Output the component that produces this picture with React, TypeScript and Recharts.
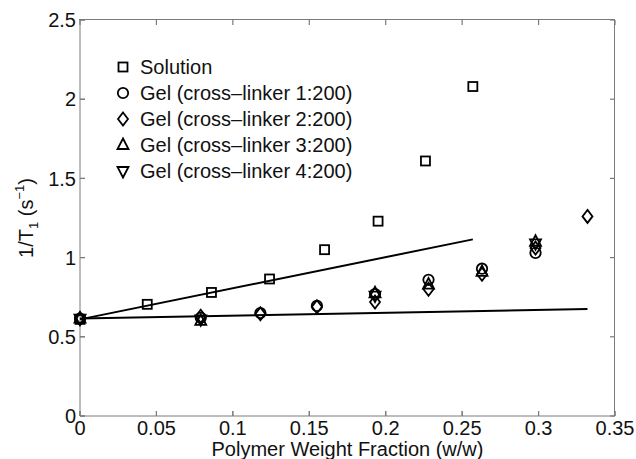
import {
  Legend,
  Scatter,
  ScatterChart,
  XAxis,
  YAxis,
} from "recharts";

const X_DOMAIN = [0, 0.35];
const Y_DOMAIN = [0, 2.5];
const X_TICKS = [0, 0.05, 0.1, 0.15, 0.2, 0.25, 0.3, 0.35];
const Y_TICKS = [0, 0.5, 1, 1.5, 2, 2.5];

const solution = [
  { x: 0, y: 0.61 },
  { x: 0.044, y: 0.705 },
  { x: 0.086, y: 0.78 },
  { x: 0.124, y: 0.865 },
  { x: 0.16, y: 1.05 },
  { x: 0.195, y: 1.23 },
  { x: 0.226, y: 1.61 },
  { x: 0.257, y: 2.08 },
];
const gel1 = [
  { x: 0, y: 0.615 },
  { x: 0.079, y: 0.62 },
  { x: 0.118, y: 0.65 },
  { x: 0.155, y: 0.695 },
  { x: 0.193, y: 0.77 },
  { x: 0.228, y: 0.86 },
  { x: 0.263, y: 0.93 },
  { x: 0.298, y: 1.03 },
];
const gel2 = [
  { x: 0, y: 0.615 },
  { x: 0.079, y: 0.63 },
  { x: 0.118, y: 0.645 },
  { x: 0.155, y: 0.69 },
  { x: 0.193, y: 0.72 },
  { x: 0.228, y: 0.8 },
  { x: 0.263, y: 0.895 },
  { x: 0.298, y: 1.06 },
  { x: 0.332, y: 1.26 },
];
const gel3 = [
  { x: 0, y: 0.615 },
  { x: 0.079, y: 0.6 },
  { x: 0.193, y: 0.775 },
  { x: 0.228, y: 0.83 },
  { x: 0.263, y: 0.91 },
  { x: 0.298, y: 1.1 },
];
const gel4 = [
  { x: 0, y: 0.615 },
  { x: 0.079, y: 0.61 },
  { x: 0.193, y: 0.76 },
  { x: 0.298, y: 1.09 },
];
const solutionFit = [
  { x: 0, y: 0.61 },
  { x: 0.257, y: 1.115 },
];
const gelFit = [
  { x: 0, y: 0.615 },
  { x: 0.332, y: 0.675 },
];

const LEGEND = [
  { name: "Solution", kind: "square" },
  { name: "Gel (cross\u2013linker 1:200)", kind: "circle" },
  { name: "Gel (cross\u2013linker 2:200)", kind: "diamond" },
  { name: "Gel (cross\u2013linker 3:200)", kind: "up" },
  { name: "Gel (cross\u2013linker 4:200)", kind: "down" },
];

// inward ticks, built from the axis domains and tick lists
const [X0, X1] = X_DOMAIN;
const [Y0, Y1] = Y_DOMAIN;
const ticksTop = X_TICKS.map((x) => ({ x, y: Y1 }));
const ticksBottom = X_TICKS.map((x) => ({ x, y: Y0 }));
const ticksLeft = Y_TICKS.map((y) => ({ x: X0, y }));
const ticksRight = Y_TICKS.map((y) => ({ x: X1, y }));

const W = 636;
const H = 459;
const MARGIN = { top: 20, right: 21, bottom: 13, left: 30 };
const Y_AXIS_W = 50;
const X_AXIS_H = 30;
const FONT = "'Liberation Sans', Arial, Helvetica, sans-serif";
const FRAME = "#7a7a7a";
const TICK = { fontSize: 20, fill: "#111", fontFamily: FONT };

function Mark({ cx, cy, kind }: { cx: number; cy: number; kind: string }) {
  const st = { fill: "none", stroke: "#000", strokeWidth: 1.8 };
  if (kind === "square") return <rect x={cx - 4.5} y={cy - 4.5} width={9} height={9} {...st} />;
  if (kind === "circle") return <circle cx={cx} cy={cy} r={5.2} {...st} />;
  if (kind === "diamond")
    return <polygon points={`${cx},${cy - 6.5} ${cx + 5},${cy} ${cx},${cy + 6.5} ${cx - 5},${cy}`} {...st} />;
  if (kind === "up")
    return <polygon points={`${cx},${cy - 6.5} ${cx + 5.5},${cy + 4} ${cx - 5.5},${cy + 4}`} {...st} />;
  return <polygon points={`${cx},${cy + 6.5} ${cx + 5.5},${cy - 4} ${cx - 5.5},${cy - 4}`} {...st} />;
}

const shapeOf = (kind: string) => (p: any) => <Mark cx={p.cx} cy={p.cy} kind={kind} />;

// short inward tick mark, direction given as a path fragment
const tickShape = (dir: string) => (p: any) => (
  <path d={`M${p.cx},${p.cy}${dir}`} stroke={FRAME} strokeWidth={1.2} fill="none" />
);
const noShape = () => <g />;

function LegendBox() {
  return (
    <div style={{ fontFamily: FONT, fontSize: 20, color: "#111" }}>
      {LEGEND.map((d) => (
        <div key={d.name} style={{ display: "flex", alignItems: "center", height: 26 }}>
          <svg width={18} height={18} style={{ marginRight: 8 }}>
            <Mark cx={9} cy={9} kind={d.kind} />
          </svg>
          <span>{d.name}</span>
        </div>
      ))}
    </div>
  );
}

function YLabel(props: any) {
  const vb = props.viewBox || { y: 20, height: 396 };
  const cy = vb.y + vb.height / 2;
  const x = 33;
  return (
    <text
      transform={`translate(${x},${cy}) rotate(-90)`}
      textAnchor="middle"
      style={{ fontFamily: FONT, fontSize: 20, fill: "#111" }}
    >
      1/T
      <tspan fontSize={13} dy={5}>1</tspan>
      <tspan dy={-5}> (s</tspan>
      <tspan fontSize={13} dy={-9}>{"\u22121"}</tspan>
      <tspan dy={9}>)</tspan>
    </text>
  );
}

export default function App() {
  const plotLeft = MARGIN.left + Y_AXIS_W;
  const plotW = W - plotLeft - MARGIN.right;
  const plotH = H - MARGIN.top - MARGIN.bottom - X_AXIS_H;
  return (
    <div style={{ position: "absolute", left: 0, top: 0, width: W, height: H, background: "#fff" }}>
      <ScatterChart width={W} height={H} margin={MARGIN}>
        <XAxis
          type="number"
          dataKey="x"
          domain={X_DOMAIN}
          ticks={X_TICKS}
          height={X_AXIS_H}
          tick={TICK}
          tickSize={-5}
          tickMargin={10}
          stroke={FRAME}
          label={{
            value: "Polymer Weight Fraction (w/w)",
            position: "insideBottom",
            offset: -10,
            style: { fontFamily: FONT, fontSize: 20, fill: "#111" },
          }}
        />
        <YAxis
          type="number"
          dataKey="y"
          domain={Y_DOMAIN}
          ticks={Y_TICKS}
          width={Y_AXIS_W}
          tick={TICK}
          tickSize={-5}
          tickMargin={9}
          stroke={FRAME}
          label={{ content: YLabel }}
        />
        <Legend
          layout="vertical"
          align="center"
          verticalAlign="middle"
          wrapperStyle={{ left: 114, top: 54, width: 340 }}
          content={() => <LegendBox />}
        />
        <Scatter data={ticksTop} shape={tickShape("v5")} legendType="none" isAnimationActive={false} />
        <Scatter data={ticksBottom} shape={tickShape("v-5")} legendType="none" isAnimationActive={false} />
        <Scatter data={ticksLeft} shape={tickShape("h5")} legendType="none" isAnimationActive={false} />
        <Scatter data={ticksRight} shape={tickShape("h-5")} legendType="none" isAnimationActive={false} />
        <Scatter data={solutionFit} line={{ stroke: "#000", strokeWidth: 2 }} shape={noShape} legendType="none" isAnimationActive={false} />
        <Scatter data={gelFit} line={{ stroke: "#000", strokeWidth: 2 }} shape={noShape} legendType="none" isAnimationActive={false} />
        <Scatter name="Solution" data={solution} shape={shapeOf("square")} isAnimationActive={false} />
        <Scatter name="Gel 1" data={gel1} shape={shapeOf("circle")} isAnimationActive={false} />
        <Scatter name="Gel 2" data={gel2} shape={shapeOf("diamond")} isAnimationActive={false} />
        <Scatter name="Gel 3" data={gel3} shape={shapeOf("up")} isAnimationActive={false} />
        <Scatter name="Gel 4" data={gel4} shape={shapeOf("down")} isAnimationActive={false} />
      </ScatterChart>
      {/* plot box outline, laid over the chart's plotting area */}
      <div
        style={{
          position: "absolute",
          left: plotLeft - 1,
          top: MARGIN.top - 1,
          width: plotW,
          height: plotH,
          borderTop: `1px solid ${FRAME}`,
          borderRight: `1px solid ${FRAME}`,
          pointerEvents: "none",
        }}
      />
    </div>
  );
}
